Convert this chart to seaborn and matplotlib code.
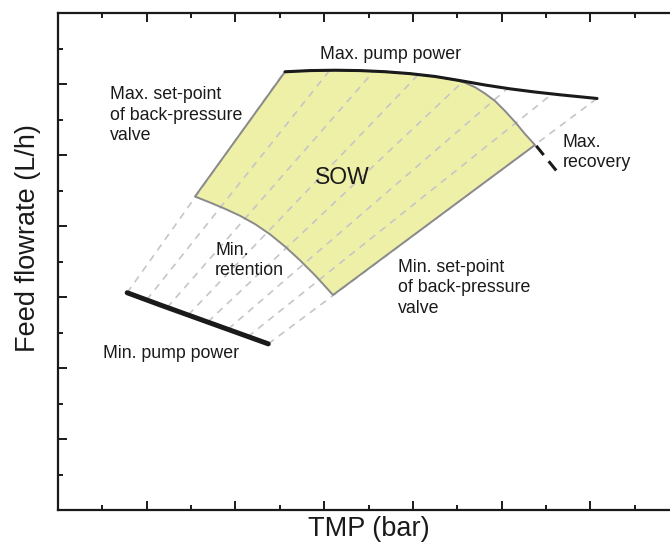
import matplotlib
matplotlib.use("Agg")
import matplotlib.pyplot as plt
import seaborn as sns
import pandas as pd
from matplotlib.ticker import MultipleLocator, NullFormatter

# Maximum pump power boundary (TMP, feed flowrate)
max_pump_tmp = [2.559, 2.841, 3.123, 3.404, 3.686, 3.968, 4.250, 4.531,
                4.813, 5.095, 5.377, 5.659, 5.940, 6.076]
max_pump_flow = [6.172, 6.189, 6.194, 6.189, 6.173, 6.146, 6.106, 6.048,
                 5.986, 5.932, 5.887, 5.848, 5.813, 5.796]

# Minimum pump power boundary
min_pump_tmp = [0.78, 1.17, 1.57, 1.97, 2.37]
min_pump_flow = [3.06, 2.88, 2.70, 2.52, 2.34]

# Constant back-pressure valve set-point lines: start on the minimum
# pump power curve, end on the maximum pump power curve
valve_start_tmp = [0.78, 1.00, 1.23, 1.47, 1.69, 1.92, 2.14, 2.37]
valve_start_flow = [3.06, 2.96, 2.85, 2.75, 2.65, 2.55, 2.44, 2.34]
valve_end_tmp = [2.55, 3.06, 3.56, 4.06, 4.57, 5.07, 5.57, 6.08]
valve_end_flow = [6.17, 6.19, 6.18, 6.13, 6.04, 5.94, 5.86, 5.80]

# Safe operating window outline (clockwise from the top-left corner):
# top edge on max pump power, bend down to the max recovery corner,
# min set-point edge, min retention curve, then the max set-point edge
sow_tmp = [2.559, 2.841, 3.123, 3.404, 3.686, 3.968, 4.250,
           4.475, 4.588, 4.701, 4.813, 4.926, 5.039, 5.152, 5.264, 5.377,
           3.100, 2.897, 2.728, 2.559, 2.390, 2.221, 2.052, 1.883, 1.713,
           1.544]
sow_flow = [6.172, 6.189, 6.194, 6.189, 6.173, 6.146, 6.106,
            6.058, 6.017, 5.955, 5.866, 5.761, 5.620, 5.465, 5.296, 5.141,
            3.028, 3.306, 3.517, 3.711, 3.883, 4.027, 4.144, 4.242, 4.331,
            4.415]

# Maximum recovery limit
max_rec_tmp = [5.39, 5.63]
max_rec_flow = [5.13, 4.76]

sns.set_theme(style="ticks")
plt.rcParams["font.family"] = ["Liberation Sans", "DejaVu Sans"]

fig = plt.figure(figsize=(6.70, 5.42), dpi=100)
ax = fig.add_axes([58 / 670, 32 / 542, 621 / 670, 497 / 542])

ink = "#1a1a1a"

# Operating window
ax.fill(sow_tmp, sow_flow, facecolor="#eef0a8", edgecolor="none", zorder=1)

# Set-point lines
for x0, y0, x1, y1 in zip(valve_start_tmp, valve_start_flow,
                          valve_end_tmp, valve_end_flow):
    ax.plot([x0, x1], [y0, y1], color="#c6c6c6", lw=1.2,
            linestyle=(0, (4.2, 3.6)), zorder=2)

ax.fill(sow_tmp, sow_flow, facecolor="none", edgecolor="#8a8a8a", lw=1.4,
        joinstyle="round", zorder=3)

max_pump = pd.DataFrame({"tmp": max_pump_tmp, "flow": max_pump_flow})
min_pump = pd.DataFrame({"tmp": min_pump_tmp, "flow": min_pump_flow})
sns.lineplot(data=max_pump, x="tmp", y="flow", sort=False, estimator=None,
             color=ink, lw=2.2, ax=ax, zorder=4)
sns.lineplot(data=min_pump, x="tmp", y="flow", sort=False, estimator=None,
             color=ink, lw=3.6, ax=ax, zorder=4)
ax.plot(max_rec_tmp, max_rec_flow, color=ink, lw=2.2,
        linestyle=(0, (3.9, 2.6)), solid_capstyle="butt", zorder=4)

# Region labels
lab = dict(fontsize=12.8, color=ink, ha="left", va="center", linespacing=1.25)
ax.text(2.95, 6.42, "Max. pump power", **lab)
ax.text(0.59, 5.56, "Max. set-point\nof back-pressure\nvalve", **lab)
ax.text(1.77, 3.51, "Min.\nretention", **lab)
ax.text(5.69, 5.04, "Max.\nrecovery", **lab)
ax.text(3.83, 3.13, "Min. set-point\nof back-pressure\nvalve", **lab)
ax.text(0.51, 2.20, "Min. pump power", **lab)
ax.text(3.21, 4.69, "SOW", fontsize=16.5, color=ink, ha="center", va="center")

ax.set_xlim(0, 7)
ax.set_ylim(0, 7)
ax.xaxis.set_major_locator(MultipleLocator(1))
ax.xaxis.set_minor_locator(MultipleLocator(0.5))
ax.yaxis.set_major_locator(MultipleLocator(1))
ax.yaxis.set_minor_locator(MultipleLocator(0.5))
ax.xaxis.set_major_formatter(NullFormatter())
ax.yaxis.set_major_formatter(NullFormatter())
ax.tick_params(which="both", direction="in", top=True, right=True,
               color=ink, width=1.4)
ax.tick_params(which="major", length=6.5)
ax.tick_params(which="minor", length=3.6)
for s in ax.spines.values():
    s.set_visible(True)
    s.set_color(ink)
    s.set_linewidth(1.6)

ax.set_xlabel("TMP (bar)", fontsize=19.5, color=ink, labelpad=1)
ax.set_ylabel("Feed flowrate (L/h)", fontsize=19.5, color=ink)
ax.yaxis.set_label_coords(-0.027, 0.547)

fig.savefig("out.png", dpi=100)
